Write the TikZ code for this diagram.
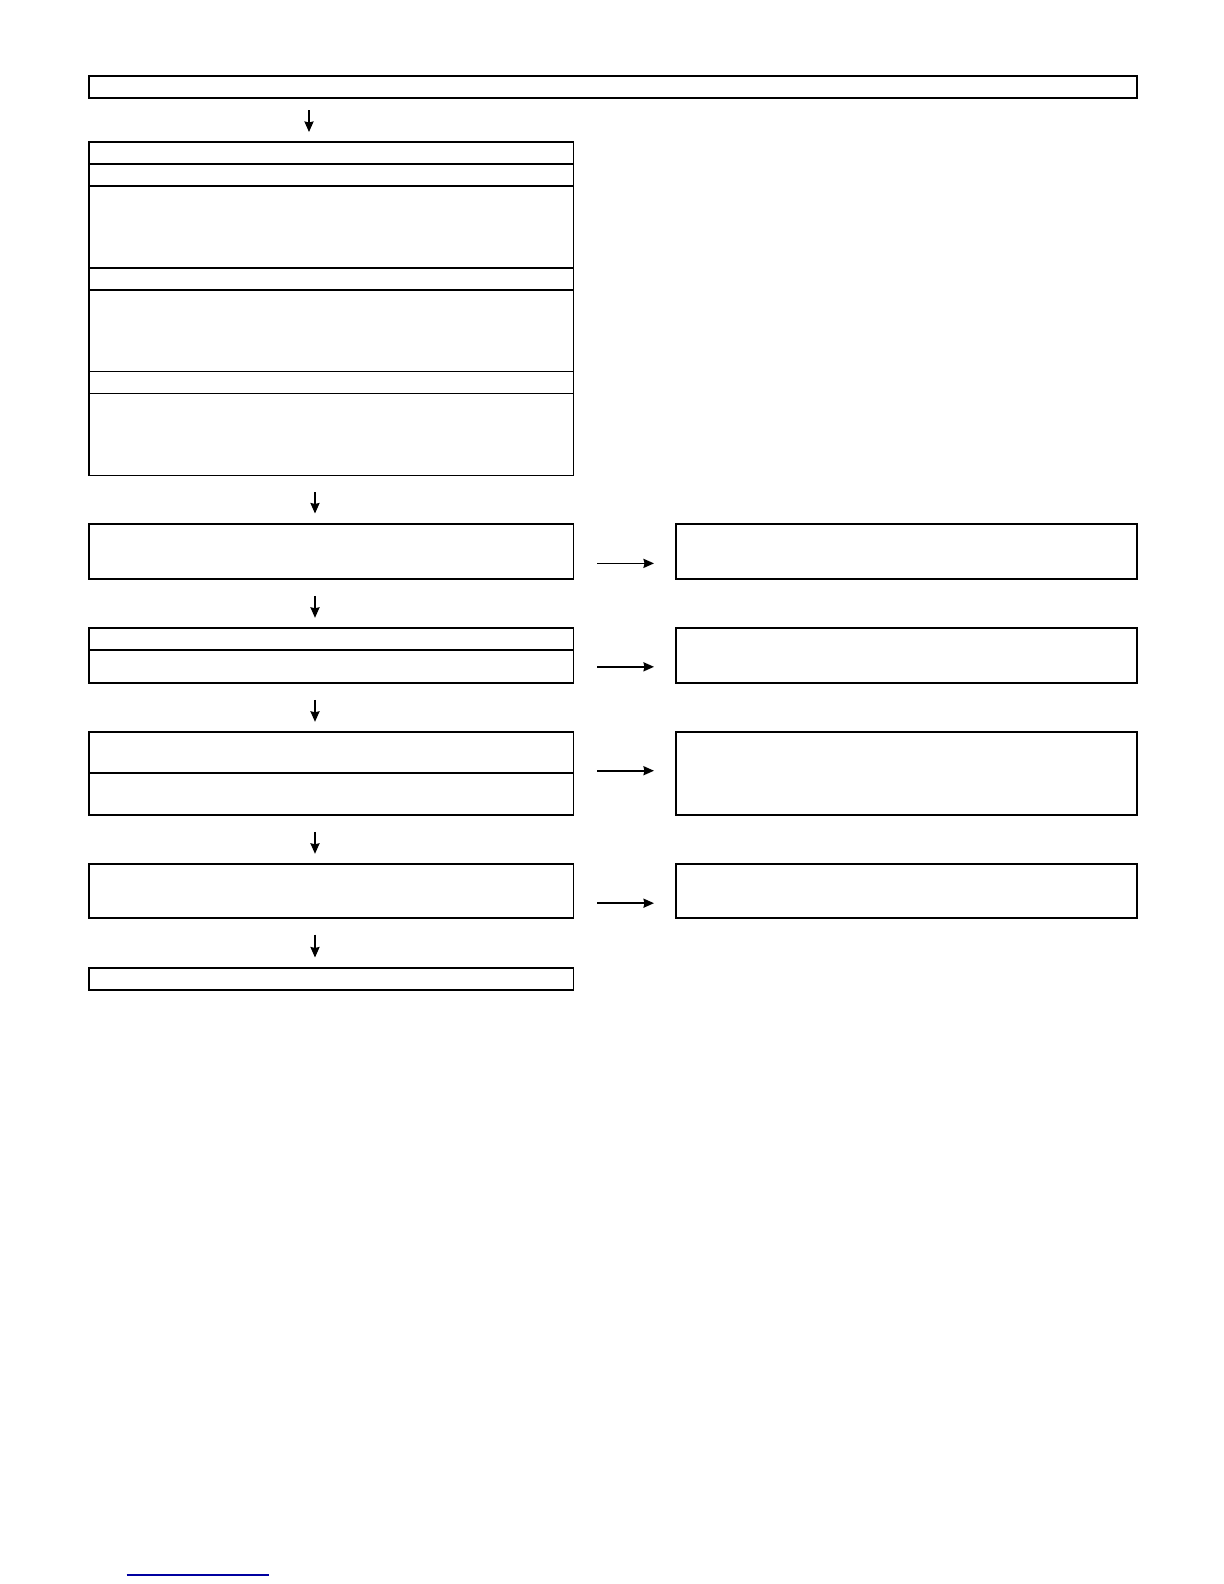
\documentclass[tikz,border=0pt]{standalone}
\usetikzlibrary{arrows.meta}
\definecolor{linkblue}{RGB}{0,0,160}
\begin{document}
\begin{tikzpicture}[x=0.01cm,y=-0.01cm,
  box/.style={draw,line width=0.5pt,inner sep=0pt,outer sep=0pt,anchor=north west,minimum width=4.846cm},
  rbox/.style={box,minimum width=4.604cm},
  arr/.style={->,>={Stealth[length=3pt,width=2.6pt,inset=0.3pt]},line width=0.45pt},
  vgap/.style={shorten <=0.165cm,shorten >=0.105cm},
  hgap/.style={shorten <=0.237cm,shorten >=0.223cm}]
  \useasboundingbox (0,0) rectangle (1224,1584);
  \node[box,minimum width=10.48cm,minimum height=0.22cm] (top) at (88.7,76) {};
  % stacked block
  \node[box,minimum height=0.22cm] (s1) at (88.7,142) {};
  \node[box,minimum height=0.22cm] (s2) at (s1.south west) {};
  \node[box,minimum height=0.82cm] (s3) at (s2.south west) {};
  \node[box,minimum height=0.22cm] (s4) at (s3.south west) {};
  \node[box,minimum height=0.813cm] (s5) at (s4.south west) {};
  \node[box,minimum height=0.22cm] (s6) at (s5.south west) {};
  \node[box,minimum height=0.82cm] (s7) at (s6.south west) {};
  % rows
  \node[box,minimum height=0.553cm] (a) at (88.7,524) {};
  \node[rbox,minimum height=0.553cm] (ar) at (676.3,524) {};
  \node[box,minimum height=0.22cm] (b1) at (88.7,628.3) {};
  \node[box,minimum height=0.33cm] (b2) at (b1.south west) {};
  \node[rbox,minimum height=0.55cm] (br) at (676.3,628.3) {};
  \node[box,minimum height=0.407cm] (c1) at (88.7,732.3) {};
  \node[box,minimum height=0.423cm] (c2) at (c1.south west) {};
  \node[rbox,minimum height=0.83cm] (cr) at (676.3,732.3) {};
  \node[box,minimum height=0.537cm] (d) at (88.7,864.3) {};
  \node[rbox,minimum height=0.537cm] (dr) at (676.3,864.3) {};
  \node[box,minimum height=0.22cm] (e) at (88.7,968) {};
  \coordinate (x0) at (309,0);
  \coordinate (x1) at (315,0);
  \draw[arr,shorten <=0.12cm,shorten >=0.1cm] (top.south -| x0) -- (s1.north -| x0);
  \draw[arr,vgap] (s7.south -| x1) -- (a.north -| x1);
  \draw[arr,vgap] (a.south -| x1) -- (b1.north -| x1);
  \draw[arr,vgap] (b2.south -| x1) -- (c1.north -| x1);
  \draw[arr,vgap] (c2.south -| x1) -- (d.north -| x1);
  \draw[arr,vgap] (d.south -| x1) -- (e.north -| x1);
  \draw[arr,hgap] ([yshift=-0.117cm]a.east) -- ([yshift=-0.117cm]a.east -| ar.west);
  \draw[arr,hgap] (b2.east) -- (b2.east -| br.west);
  \draw[arr,hgap] ([yshift=0.023cm]c1.south east) -- ([yshift=0.023cm]c1.south east -| cr.west);
  \draw[arr,hgap] ([yshift=-0.12cm]d.east) -- ([yshift=-0.12cm]d.east -| dr.west);
  \draw[linkblue,line width=0.4pt] (126.7,1575) -- (269,1575);
\end{tikzpicture}
\end{document}
